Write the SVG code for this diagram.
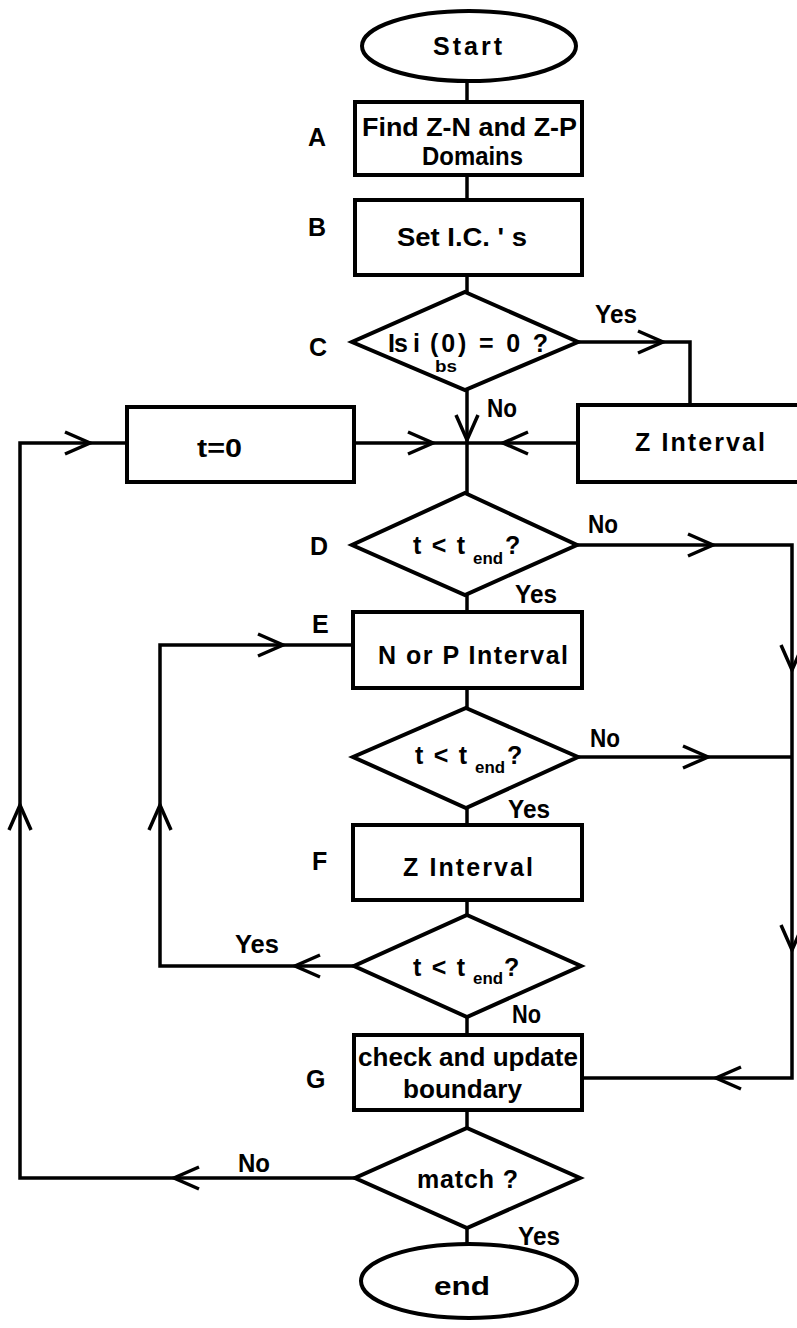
<svg xmlns="http://www.w3.org/2000/svg" width="797" height="1328" viewBox="0 0 797 1328">
<defs>
<style>
.shape{fill:#fff;stroke:#000;stroke-width:4}
.ln{fill:none;stroke:#000;stroke-width:3.5}
.t{font-family:"Liberation Sans",Arial,sans-serif;font-weight:bold;fill:#000;font-size:25px}
.sub{font-family:"Liberation Sans",Arial,sans-serif;font-weight:bold;fill:#000;font-size:17px}
</style>
<path id="chev" d="M-25,-11 L0,0 L-25,11" fill="none" stroke="#000" stroke-width="3.5" stroke-linejoin="miter"/>
</defs>
<rect width="797" height="1328" fill="#fff"/>
<g id="connectors">
<path class="ln" d="M467,81 V102"/>
<path class="ln" d="M467,175 V200"/>
<path class="ln" d="M467,275 V292"/>
<path class="ln" d="M467,390 V493"/>
<path class="ln" d="M578,342 H690 V405"/>
<path class="ln" d="M578,443 H354"/>
<path class="ln" d="M577,545 H792 V1078 H583"/>
<path class="ln" d="M467,595 V612"/>
<path class="ln" d="M467,688 V708"/>
<path class="ln" d="M578,757 H792"/>
<path class="ln" d="M467,808 V825"/>
<path class="ln" d="M467,900 V915"/>
<path class="ln" d="M354,966 H160 V645 H353"/>
<path class="ln" d="M467,1017 V1035"/>
<path class="ln" d="M467,1110 V1128"/>
<path class="ln" d="M355,1178 H20 V443 H127"/>
<path class="ln" d="M467,1228 V1245"/>
<use href="#chev" transform="translate(467,440) rotate(90)"/>
<use href="#chev" transform="translate(663,342)"/>
<use href="#chev" transform="translate(503,443) rotate(180)"/>
<use href="#chev" transform="translate(433,443)"/>
<use href="#chev" transform="translate(713,545)"/>
<use href="#chev" transform="translate(792,670) rotate(90)"/>
<use href="#chev" transform="translate(792,950) rotate(90)"/>
<use href="#chev" transform="translate(716,1078) rotate(180)"/>
<use href="#chev" transform="translate(708,757)"/>
<use href="#chev" transform="translate(295,966) rotate(180)"/>
<use href="#chev" transform="translate(160,805) rotate(-90)"/>
<use href="#chev" transform="translate(283,645)"/>
<use href="#chev" transform="translate(174,1178) rotate(180)"/>
<use href="#chev" transform="translate(20,805) rotate(-90)"/>
<use href="#chev" transform="translate(90,443)"/>
<text class="t" x="595" y="323" textLength="42" lengthAdjust="spacingAndGlyphs">Yes</text>
<text class="t" x="487" y="417" textLength="30" lengthAdjust="spacingAndGlyphs">No</text>
<text class="t" x="588" y="533" textLength="30" lengthAdjust="spacingAndGlyphs">No</text>
<text class="t" x="515" y="603" textLength="42" lengthAdjust="spacingAndGlyphs">Yes</text>
<text class="t" x="590" y="747" textLength="30" lengthAdjust="spacingAndGlyphs">No</text>
<text class="t" x="508" y="818" textLength="42" lengthAdjust="spacingAndGlyphs">Yes</text>
<text class="t" x="235" y="953" textLength="44" lengthAdjust="spacingAndGlyphs">Yes</text>
<text class="t" x="512" y="1023" textLength="29" lengthAdjust="spacingAndGlyphs">No</text>
<text class="t" x="238" y="1172" textLength="32" lengthAdjust="spacingAndGlyphs">No</text>
<text class="t" x="518" y="1245" textLength="42" lengthAdjust="spacingAndGlyphs">Yes</text>
</g>
<g id="start">
<ellipse class="shape" cx="469" cy="46" rx="107" ry="35"/>
<text class="t" x="433" y="55" font-size="26" textLength="69" lengthAdjust="spacing">Start</text>
</g>
<g id="A">
<rect class="shape" x="355" y="102" width="227" height="73"/>
<text class="t" x="308" y="146">A</text>
<text class="t" x="362" y="136" font-size="22" textLength="215" lengthAdjust="spacingAndGlyphs">Find Z-N and Z-P</text>
<text class="t" x="422" y="165" font-size="22" textLength="101" lengthAdjust="spacingAndGlyphs">Domains</text>
</g>
<g id="B">
<rect class="shape" x="355" y="200" width="227" height="75"/>
<text class="t" x="308" y="236">B</text>
<text class="t" x="397" y="246" font-size="28" textLength="130" lengthAdjust="spacingAndGlyphs">Set I.C. ' s</text>
</g>
<g id="C">
<path class="shape" d="M465,292 L578,342 L465,390 L352,342 Z"/>
<text class="t" x="309" y="356">C</text>
<text class="t" x="388" y="352" font-size="26" textLength="32" lengthAdjust="spacing">Is i</text>
<text class="t" x="430" y="352" font-size="26" textLength="118" lengthAdjust="spacing">(0) = 0 ?</text>
<text class="sub" x="435" y="372" textLength="22" lengthAdjust="spacingAndGlyphs">bs</text>
</g>
<g id="t0">
<rect class="shape" x="127" y="407" width="227" height="75"/>
<text class="t" x="197" y="457" font-size="28" textLength="45" lengthAdjust="spacingAndGlyphs">t=0</text>
</g>
<g id="Zright">
<rect class="shape" x="578" y="405" width="225" height="77"/>
<text class="t" x="635" y="451" font-size="28" textLength="130" lengthAdjust="spacing">Z  Interval</text>
</g>
<g id="D">
<path class="shape" d="M465,493 L577,545 L465,595 L352,545 Z"/>
<text class="t" x="310" y="555">D</text>
<text class="t" x="413" y="554" font-size="28" textLength="52" lengthAdjust="spacing">t &lt; t</text>
<text class="sub" x="473" y="564" textLength="30" lengthAdjust="spacingAndGlyphs">end</text>
<text class="t" x="505" y="554" font-size="28">?</text>
</g>
<g id="E">
<rect class="shape" x="353" y="612" width="229" height="76"/>
<text class="t" x="312" y="633">E</text>
<text class="t" x="378" y="664" font-size="28" textLength="190" lengthAdjust="spacing">N  or  P  Interval</text>
</g>
<g id="E2">
<path class="shape" d="M466,708 L578,757 L466,808 L353,757 Z"/>
<text class="t" x="415" y="764" font-size="28" textLength="52" lengthAdjust="spacing">t &lt; t</text>
<text class="sub" x="475" y="773" textLength="30" lengthAdjust="spacingAndGlyphs">end</text>
<text class="t" x="507" y="764" font-size="28">?</text>
</g>
<g id="F">
<rect class="shape" x="353" y="825" width="229" height="75"/>
<text class="t" x="312" y="870">F</text>
<text class="t" x="403" y="876" font-size="28" textLength="130" lengthAdjust="spacing">Z  Interval</text>
</g>
<g id="F2">
<path class="shape" d="M467,915 L581,966 L467,1017 L354,966 Z"/>
<text class="t" x="413" y="976" font-size="28" textLength="52" lengthAdjust="spacing">t &lt; t</text>
<text class="sub" x="473" y="984" textLength="30" lengthAdjust="spacingAndGlyphs">end</text>
<text class="t" x="504" y="976" font-size="28">?</text>
</g>
<g id="G">
<rect class="shape" x="354" y="1035" width="228" height="75"/>
<text class="t" x="306" y="1088">G</text>
<text class="t" x="358" y="1066" font-size="25" textLength="220" lengthAdjust="spacingAndGlyphs">check and update</text>
<text class="t" x="403" y="1098" font-size="25" textLength="119" lengthAdjust="spacingAndGlyphs">boundary</text>
</g>
<g id="match">
<path class="shape" d="M467,1128 L580,1178 L467,1228 L355,1178 Z"/>
<text class="t" x="417" y="1188" font-size="27" textLength="101" lengthAdjust="spacing">match  ?</text>
</g>
<g id="end">
<ellipse class="shape" cx="469" cy="1281" rx="108" ry="37"/>
<text class="t" x="434" y="1295" font-size="27" textLength="56" lengthAdjust="spacingAndGlyphs">end</text>
</g>
</svg>
